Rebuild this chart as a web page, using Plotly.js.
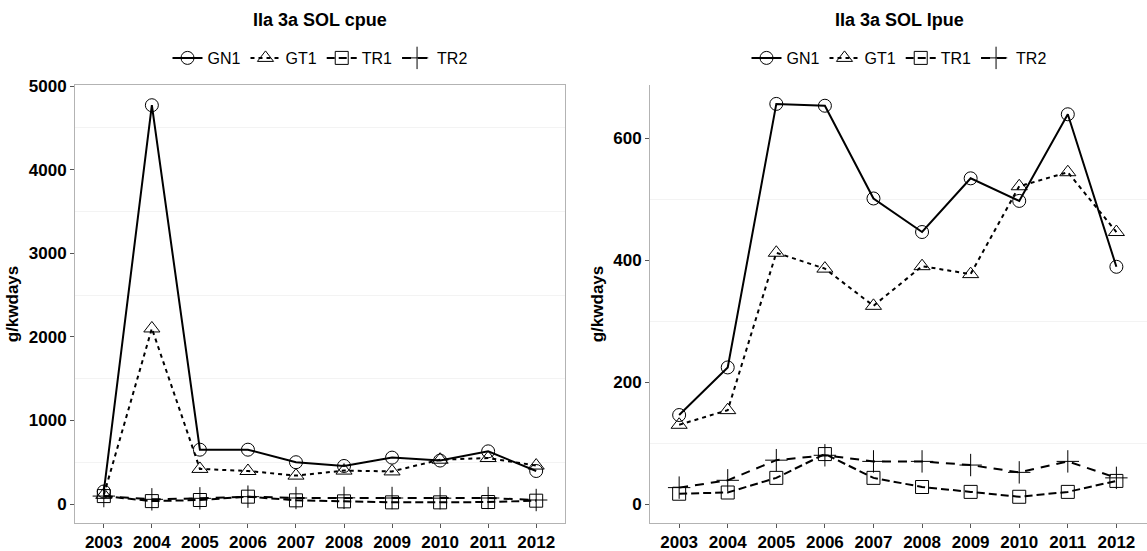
<!DOCTYPE html>
<html>
<head>
<meta charset="utf-8">
<script src="https://cdn.plot.ly/plotly-3.0.1.min.js"></script>
<style>html,body{margin:0;padding:0;background:#fff;}#chart{width:1147px;height:551px;}</style>
</head>
<body>
<div id="chart"></div>
<script>
// ---- data ----
var years = [2003, 2004, 2005, 2006, 2007, 2008, 2009, 2010, 2011, 2012];
var yearLabels = ["2003","2004","2005","2006","2007","2008","2009","2010","2011","2012"];
var seriesNames = ["GN1", "GT1", "TR1", "TR2"];

// cpue (g/kwdays)
var cpueGN1 = [150, 4770, 650, 650, 500, 455, 555, 520, 630, 395];
var cpueGT1 = [110, 2100, 420, 395, 340, 400, 390, 530, 550, 460];
var cpueTR1 = [95, 35, 48, 88, 44, 32, 20, 20, 24, 40];
var cpueTR2 = [95, 56, 68, 88, 72, 74, 72, 70, 72, 48];

// lpue (g/kwdays)
var lpueGN1 = [146, 224, 656, 653, 501, 446, 534, 497, 639, 389];
var lpueGT1 = [130, 154, 412, 386, 325, 390, 377, 521, 544, 446];
var lpueTR1 = [17, 19, 43, 82, 43, 28, 20, 12, 20, 38];
var lpueTR2 = [27, 39, 72, 80, 70, 70, 64, 52, 70, 43];

var cpueTicks = [0, 1000, 2000, 3000, 4000, 5000];
var cpueMinor = [500, 1500, 2500, 3500, 4500];
var lpueTicks = [0, 200, 400, 600];
var lpueMinor = [100, 300, 500];

// ---- styles ----
var styles = {
  GN1: {dash: "solid", symbol: "circle-open", size: 13},
  GT1: {dash: "4px,4px", symbol: "triangle-up-open", size: 14},
  TR1: {dash: "8px,4px", symbol: "square-open", size: 13},
  TR2: {dash: "9px,7px", symbol: "cross-thin-open", size: 16}
};

function mk(name, y, xa, ya, leg) {
  var s = styles[name];
  return {
    type: "scatter", mode: "lines+markers", name: name,
    x: years, y: y, xaxis: xa, yaxis: ya, legend: leg,
    line: {color: "#000", width: 2, dash: s.dash},
    marker: {symbol: s.symbol, size: s.size, color: "#000",
             line: {color: "#000", width: 1}},
    showlegend: true
  };
}

var cpue = {GN1: cpueGN1, GT1: cpueGT1, TR1: cpueTR1, TR2: cpueTR2};
var lpue = {GN1: lpueGN1, GT1: lpueGT1, TR1: lpueTR1, TR2: lpueTR2};
var traces = [];
seriesNames.forEach(function (n) { traces.push(mk(n, cpue[n], "x", "y", "legend")); });
seriesNames.forEach(function (n) { traces.push(mk(n, lpue[n], "x2", "y2", "legend2")); });

var W = 1147, H = 551;
var font = "Liberation Sans, Arial, sans-serif";
var tickFont = {family: font, size: 17, color: "#000", weight: "bold"};
var frame = "#b3b3b3";

function xax(domain, range, mirror) {
  return {
    domain: domain, range: range, tickvals: years, ticktext: yearLabels,
    tickfont: tickFont, ticks: "outside", ticklen: 4, tickcolor: "#555",
    showline: true, linecolor: frame, linewidth: 1, mirror: mirror,
    showgrid: false, zeroline: false, fixedrange: true
  };
}
function yax(range, tv, minor, mirror) {
  return {
    domain: [28 / H, 466 / H], range: range, tickvals: tv,
    tickfont: tickFont, ticks: "outside", ticklen: 4, tickcolor: "#555",
    showline: true, linecolor: frame, linewidth: 1, mirror: mirror,
    showgrid: false, zeroline: false,
    minor: {tickvals: minor, showgrid: true, gridcolor: "#f3f3f3", gridwidth: 1, ticks: ""},
    title: {text: "g/kwdays", font: {family: font, size: 17, color: "#000", weight: "bold"}, standoff: 5},
    fixedrange: true
  };
}

var legendBase = {
  orientation: "h", xanchor: "center", yanchor: "middle", y: 1 - 58 / H,
  font: {family: font, size: 16, color: "#000"}, itemwidth: 30,
  bgcolor: "rgba(0,0,0,0)", tracegroupgap: 0, itemclick: false
};

var layout = {
  width: W, height: H,
  margin: {l: 0, r: 0, t: 0, b: 0},
  paper_bgcolor: "#fff", plot_bgcolor: "#fff",
  font: {family: font, color: "#000"},
  xaxis: xax([75 / W, 565 / W], [2002.4, 2012.6], true),
  yaxis: Object.assign(yax([-227, 5012], cpueTicks, cpueMinor, true), {anchor: "x"}),
  xaxis2: Object.assign(xax([650 / W, 1], [2002.4, 2012.63], false), {anchor: "y2"}),
  yaxis2: Object.assign(yax([-31, 687], lpueTicks, lpueMinor, false), {anchor: "x2"}),
  legend: Object.assign({}, legendBase, {x: 320 / W}),
  legend2: Object.assign({}, legendBase, {x: 899 / W}),
  annotations: [
    {text: "IIa 3a SOL cpue", xref: "paper", yref: "paper", x: 320 / W, y: 1 - 20 / H,
     xanchor: "center", yanchor: "middle", showarrow: false,
     font: {family: font, size: 18, color: "#000", weight: "bold"}},
    {text: "IIa 3a SOL lpue", xref: "paper", yref: "paper", x: 899 / W, y: 1 - 20 / H,
     xanchor: "center", yanchor: "middle", showarrow: false,
     font: {family: font, size: 18, color: "#000", weight: "bold"}}
  ],
  showlegend: true
};
layout.xaxis.anchor = "y";

Plotly.newPlot("chart", traces, layout, {displayModeBar: false, staticPlot: true});
</script>
</body>
</html>
